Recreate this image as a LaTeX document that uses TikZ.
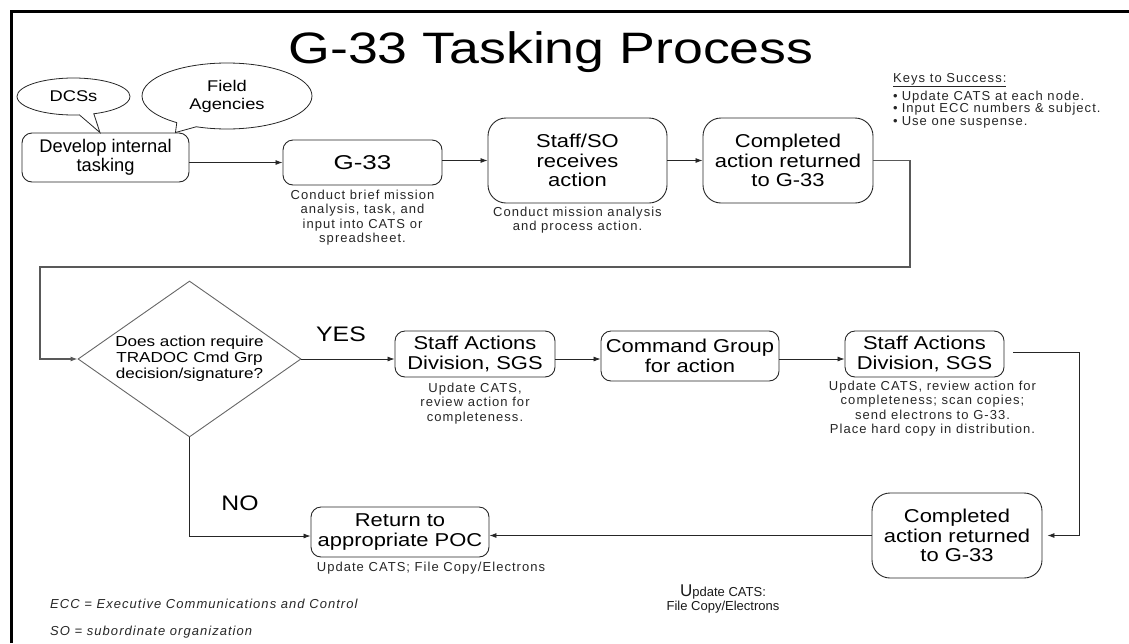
\documentclass[tikz,border=0pt]{standalone}
\usepackage{fontspec}
\setmainfont{Liberation Sans}
\newfontfamily\boxfont[FakeStretch=1.18]{Liberation Sans}
\newfontfamily\gfont[FakeStretch=1.3]{Liberation Sans}
\newfontfamily\titlefont[FakeStretch=1.22]{Liberation Sans}
\newfontfamily\capfont[LetterSpace=8]{Liberation Sans}
\usepackage{tikz}
\usetikzlibrary{shapes.geometric,shapes.callouts,arrows.meta,positioning}

\begin{document}
\begin{tikzpicture}[x=1pt,y=-1pt,
  box/.style={draw=black!85, line width=0.9pt, rounded corners=10pt, align=center, inner sep=0pt, font=\boxfont\fontsize{18.6}{19.5}\selectfont},
  bigbox/.style={box, rounded corners=18pt},
  caption/.style={align=center, inner sep=0pt, text=black!85, font=\capfont\fontsize{13}{14.6}\selectfont},
  link/.style={draw=black!85, line width=0.8pt, -{Latex[length=7pt,width=5pt]}},
  loopline/.style={link, draw=black!65, line width=1.1pt},
  bubble/.style={ellipse callout, draw=black!85, line width=0.8pt, align=center, inner sep=0pt, font=\boxfont\fontsize{15.5}{18}\selectfont},
  answer/.style={inner sep=0pt, font=\boxfont\fontsize{21}{21}\selectfont}]

\useasboundingbox (0,0) rectangle (1129,643);
\draw[line width=3pt] (11.5,643) -- (11.5,11.5) -- (1129,11.5);

\node[anchor=base, inner sep=0pt, font=\titlefont\fontsize{44}{44}\selectfont] (title) at (551,63) {G-33 Tasking Process};

\node[box, font=\normalfont\fontsize{18.3}{19.5}\selectfont, minimum width=167pt, minimum height=49pt] (dev) at (105.5,157.5) {Develop internal\\tasking};
\node[box, font=\gfont\fontsize{20}{20}\selectfont, minimum width=159pt, minimum height=45pt] (g33) at (362.5,162.5) {G-33};
\node[bigbox, minimum width=179pt, minimum height=85pt] (staff) at (577.5,160.5) {Staff/SO\\receives\\action};
\node[bigbox, minimum width=170pt, minimum height=85pt] (done) at (788,160.5) {Completed\\action returned\\to G-33};

\node[bubble, minimum width=113pt, minimum height=37pt, callout absolute pointer={([xshift=-5.5pt]dev.north)}] (dcs) at (73.5,96.5) {DCSs};
\node[bubble, minimum width=170pt, minimum height=66pt, callout absolute pointer={([xshift=-14pt]dev.north east)}] (field) at (227,96) {Field\\Agencies};

\node[caption, below=4pt of g33] (g33note) {Conduct brief mission\\analysis, task, and\\input into CATS or\\spreadsheet.};
\node[caption, below=3pt of staff] (staffnote) {Conduct mission analysis\\and process action.};

\node[caption, align=left, anchor=north west, font=\capfont\fontsize{13}{12.6}\selectfont] (keys) at (893,73) {\underline{Keys to Success:}\\[3pt]\textbullet\hspace{4pt}Update CATS at each node.\\\textbullet\hspace{4pt}Input ECC numbers \& subject.\\\textbullet\hspace{4pt}Use one suspense.};

\node[diamond, aspect=1.43, draw=black!60, line width=0.9pt, minimum width=223pt, minimum height=156pt, inner sep=0pt, align=center, font=\boxfont\fontsize{14.5}{16}\selectfont] (ask) at (189.5,359) {Does action require\\TRADOC Cmd Grp\\decision/signature?};
\node[answer, anchor=base] (yes) at (341,341.5) {YES};
\node[answer, anchor=base] (no) at (240,510.5) {NO};

\node[box, minimum width=160pt, minimum height=46pt] (sgsa) at (475,354) {Staff Actions\\Division, SGS};
\node[box, minimum width=178pt, minimum height=50pt] (cmd) at (690,356) {Command Group\\for action};
\node[box, minimum width=159pt, minimum height=46pt] (sgsb) at (924.5,354) {Staff Actions\\Division, SGS};
\node[bigbox, minimum width=170pt, minimum height=85pt] (back) at (957,535.5) {Completed\\action returned\\to G-33};
\node[box, minimum width=178pt, minimum height=50pt] (ret) at (400,532) {Return to\\appropriate POC};

\node[caption, below=5pt of sgsa] (sgsanote) {Update CATS,\\review action for\\completeness.};
\node[caption, below=3pt of sgsb, xshift=8pt] (sgsbnote) {Update CATS, review action for\\completeness; scan copies;\\send electrons to G-33.\\Place hard copy in distribution.};
\node[caption, below=4pt of ret, xshift=31pt] (retnote) {Update CATS; File Copy/Electrons};
\node[align=center, inner sep=0pt, text=black!90, font=\normalfont\fontsize{13}{14.5}\selectfont] (filenote) at (723,599) {{\fontsize{17}{17}\selectfont U}pdate CATS:\\File Copy/Electrons};

\node[caption, anchor=west, font=\capfont\itshape\fontsize{13}{14}\selectfont] (eccnote) at (50,604) {ECC = Executive Communications and Control};
\node[caption, anchor=west, font=\capfont\itshape\fontsize{13}{14}\selectfont] (sonote) at (50,632) {SO = subordinate organization};

\draw[link] (dev.east |- g33.west) -- (g33.west);
\draw[link] (g33.east |- staff.west) -- (staff.west);
\draw[link] (staff) -- (done);

\coordinate (loopr) at (910,267);
\coordinate (loopl) at (40,267);
\draw[loopline] (done.east) -| (loopr) -- (loopl) |- (ask.west);

\draw[link] (ask.east) -- (ask.east -| sgsa.west);
\draw[link] (sgsa.east |- ask.east) -- (cmd.west |- ask.east);
\draw[link] (cmd.east |- ask.east) -- (sgsb.west |- ask.east);

\coordinate (drop) at (1079,352);
\draw[link] ([xshift=9pt,yshift=2pt]sgsb.east) -- (drop) |- ([xshift=5pt]back.east);
\draw[link] (back.west) -- (back.west -| ret.east);
\draw[link] (ask.south) |- ([yshift=-4pt]ret.west);

\end{tikzpicture}
\end{document}
